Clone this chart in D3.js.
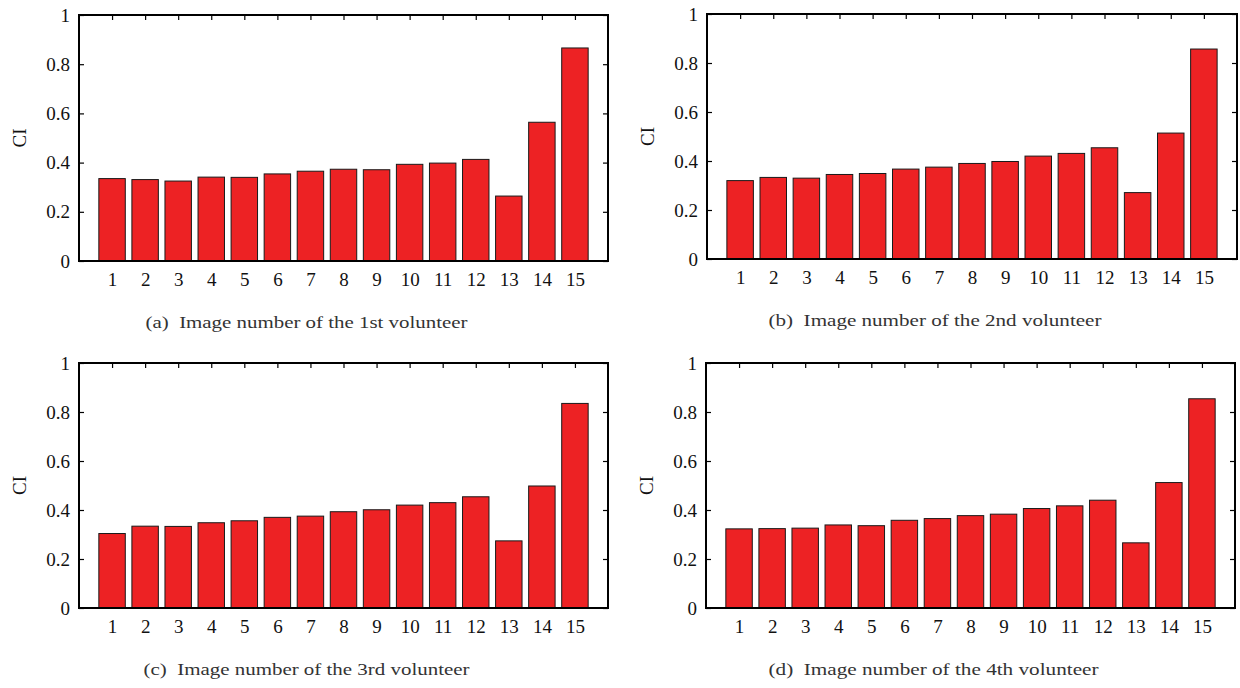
<!DOCTYPE html>
<html>
<head>
<meta charset="utf-8">
<script src="https://cdn.jsdelivr.net/npm/d3@7"></script>
<style>
  body { margin: 0; background: #fff; }
  svg text { font-family: "Liberation Serif", "DejaVu Serif", serif; }
</style>
</head>
<body>
<svg id="chart"></svg>
<script>
// Image numbers on the x axis
const images = [1, 2, 3, 4, 5, 6, 7, 8, 9, 10, 11, 12, 13, 14, 15];

// CI per image, one array per volunteer
const volunteer1 = [0.335, 0.331, 0.325, 0.341, 0.340, 0.354, 0.365, 0.373, 0.371, 0.393, 0.398, 0.413, 0.264, 0.564, 0.866];
const volunteer2 = [0.320, 0.333, 0.330, 0.345, 0.349, 0.367, 0.375, 0.390, 0.398, 0.420, 0.431, 0.454, 0.271, 0.514, 0.857];
const volunteer3 = [0.304, 0.334, 0.333, 0.348, 0.356, 0.370, 0.375, 0.393, 0.401, 0.420, 0.430, 0.454, 0.274, 0.498, 0.835];
const volunteer4 = [0.323, 0.324, 0.326, 0.339, 0.336, 0.358, 0.365, 0.377, 0.383, 0.406, 0.417, 0.440, 0.266, 0.512, 0.854];

const yTicks = [0, 0.2, 0.4, 0.6, 0.8, 1];
const yLabel = 'CI';
const captions = [
    '(a)  Image number of the 1st volunteer',
    '(b)  Image number of the 2nd volunteer',
    '(c)  Image number of the 3rd volunteer',
    '(d)  Image number of the 4th volunteer'
];

const width = 1240;
const height = 688;
const serif = '"Liberation Serif", "DejaVu Serif", serif';

// Plot frames of the four panels
const frames = [
    { x: 79, y: 15, w: 529, h: 246, cap: 322 },
    { x: 707, y: 14, w: 530, h: 245, cap: 333 },
    { x: 79, y: 363, w: 529, h: 245, cap: 326 },
    { x: 706, y: 363, w: 529, h: 245, cap: 330 }
];
const series = [volunteer1, volunteer2, volunteer3, volunteer4];

const svg = d3.select('#chart')
    .attr('width', width)
    .attr('height', height);

frames.forEach((f, k) => {
    const values = series[k];
    const data = images.map((n, i) => ({ n: n, v: values[i] }));

    const x = d3.scaleLinear().domain([0, 16]).range([0, f.w]);
    const y = d3.scaleLinear().domain([0, 1]).range([f.h, 0]);

    const g = svg.append('g')
        .attr('transform', `translate(${f.x},${f.y})`);

    // Axes with inward ticks
    g.append('g')
        .call(d3.axisLeft(y).tickValues(yTicks).tickSize(-5).tickPadding(9).tickFormat(d => String(d)));
    g.append('g')
        .attr('transform', `translate(${f.w},0)`)
        .call(d3.axisRight(y).tickValues(yTicks).tickSize(-5).tickFormat(''));
    g.append('g')
        .call(d3.axisTop(x).tickValues(images).tickSize(-5).tickFormat(''));
    g.append('g')
        .attr('transform', `translate(0,${f.h})`)
        .call(d3.axisBottom(x).tickValues(images).tickSize(-5).tickPadding(12));

    g.selectAll('.domain').remove();
    g.selectAll('g').attr('font-family', serif).attr('font-size', 19);
    g.selectAll('.tick line').attr('stroke', '#000').attr('stroke-width', 1.2);
    g.selectAll('.tick text').attr('fill', '#111');

    // Bars
    g.selectAll('.bar')
        .data(data)
        .enter().append('rect')
        .attr('class', 'bar')
        .attr('x', d => x(d.n - 0.4))
        .attr('y', d => y(d.v))
        .attr('width', x(0.8) - x(0))
        .attr('height', d => y(0) - y(d.v))
        .attr('fill', '#ed2224')
        .attr('stroke', '#1a1a1a')
        .attr('stroke-width', 1);

    // Frame
    g.append('rect')
        .attr('width', f.w)
        .attr('height', f.h)
        .attr('fill', 'none')
        .attr('stroke', '#000')
        .attr('stroke-width', 2);

    // Y label
    g.append('text')
        .attr('transform', `translate(-53,${f.h / 2}) rotate(-90)`)
        .attr('text-anchor', 'middle')
        .attr('fill', '#111')
        .attr('font-family', serif)
        .attr('font-size', 19)
        .text(yLabel);

    // Caption
    g.append('text')
        .attr('x', f.w / 2 - 37)
        .attr('y', f.h + 67)
        .attr('text-anchor', 'middle')
        .attr('fill', '#333')
        .attr('font-family', serif)
        .attr('font-size', 17.5)
        .attr('textLength', f.cap)
        .attr('lengthAdjust', 'spacingAndGlyphs')
        .style('white-space', 'pre')
        .text(captions[k]);
});
</script>
</body>
</html>
